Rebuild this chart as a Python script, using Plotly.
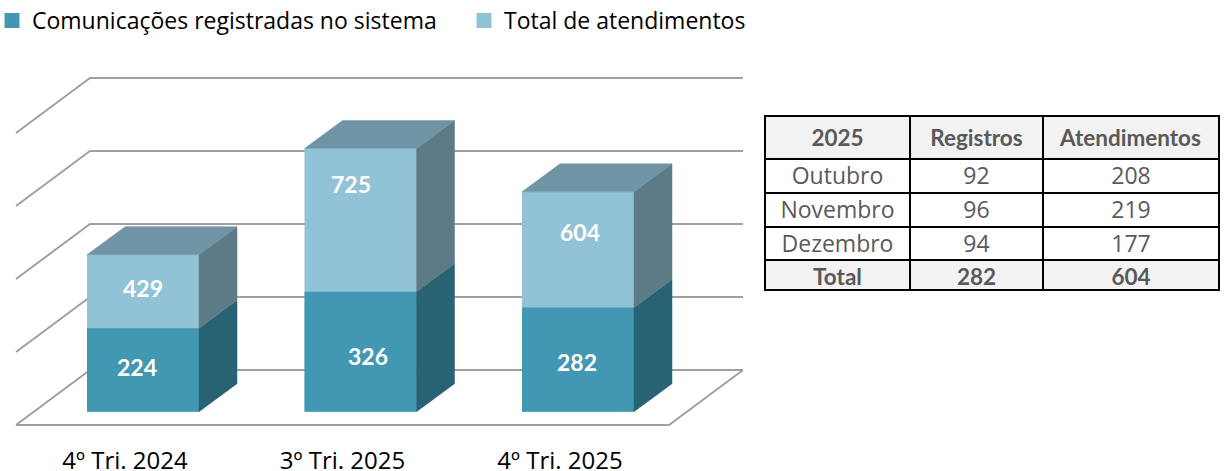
import plotly.graph_objects as go

# ---- data ----
categories = ["4º Tri. 2024", "3º Tri. 2025", "4º Tri. 2025"]
registros = [224, 326, 282]
atendimentos = [429, 725, 604]
grid_values = [0, 200, 400, 600, 800]

table_header = ["2025", "Registros", "Atendimentos"]
table_meses = ["Outubro", "Novembro", "Dezembro"]
table_registros = [92, 96, 94]
table_atendimentos = [208, 219, 177]
table_total = ["Total", 282, 604]

# ---- styling / layout constants ----
W, H = 1225, 471
TOP, BOTTOM = 40, 430
C_LOW, C_LOW_SIDE = "#4297B2", "#286373"
C_UP, C_UP_SIDE, C_UP_TOP = "#92C2D5", "#5D7B87", "#6F94A5"
GRID = "#A0A0A0"
FONT = "Open Sans"
BOLD = "Lato"

PX_X = 217.5           # pixels per category
X0_PX = 143            # pixel of first category
BAR_PX = 112
BAR_LINE = 3           # outline in the bar colour; also sizes the legend swatch
PX_GRID, Y0_GRID = 0.365, 370     # wall axis: px per unit, px of zero
PX_BAR, Y0_BAR = 0.359, 410.2     # bar axis: px per unit, px of zero

bar_w = (BAR_PX - BAR_LINE) / PX_X
ex, ey = BAR_LINE / 2 / PX_X, BAR_LINE / 2 / PX_BAR
depth_x, depth_y = 38 / PX_X, 28 / PX_BAR
wall_left, wall_right = (90 - X0_PX) / PX_X, (743 - X0_PX) / PX_X
floor_x, floor_y = 74 / PX_X, 55 / PX_GRID
positions = list(range(len(categories)))

fig = go.Figure()

# walls and floor on the main axes (behind everything)
gx, gy = [], []
for g in grid_values:
    gx += [wall_left - floor_x, wall_left, wall_right, None]
    gy += [g - floor_y, g, g, None]
gx += [wall_left - floor_x, wall_right - floor_x, wall_right, None]
gy += [grid_values[0] - floor_y, grid_values[0] - floor_y, grid_values[0], None]
fig.add_trace(go.Scatter(x=gx, y=gy, mode="lines", line=dict(color=GRID, width=2),
                         showlegend=False, hoverinfo="skip", xaxis="x", yaxis="y"))

# front faces
fig.add_trace(go.Bar(x=positions, y=atendimentos, width=bar_w,
                     marker=dict(color=C_UP, line=dict(color=C_UP, width=BAR_LINE)),
                     name="Total de atendimentos", legendrank=2, xaxis="x", yaxis="y2"))
fig.add_trace(go.Bar(x=positions, y=registros, width=bar_w,
                     marker=dict(color=C_LOW, line=dict(color=C_LOW, width=BAR_LINE)),
                     name="Comunicações registradas no sistema", legendrank=1, xaxis="x", yaxis="y2"))


def face(xs, ys, color):
    fig.add_trace(go.Scatter(x=xs + xs[:1], y=ys + ys[:1], mode="lines", fill="toself", fillcolor=color,
                             line=dict(color=color, width=0.5), showlegend=False, hoverinfo="skip",
                             xaxis="x", yaxis="y2"))


for p, r, t in zip(positions, registros, atendimentos):
    xl, xr = p - bar_w / 2 - ex, p + bar_w / 2 + ex
    r_o, t_o, b_o = r + ey, t + ey, -ey
    face([xr, xr + depth_x, xr + depth_x, xr], [b_o, b_o + depth_y, r_o + depth_y, r_o], C_LOW_SIDE)
    face([xr, xr + depth_x, xr + depth_x, xr], [r_o, r_o + depth_y, t_o + depth_y, t_o], C_UP_SIDE)
    face([xl, xr, xr + depth_x, xl + depth_x], [t_o, t_o, t_o + depth_y, t_o + depth_y], C_UP_TOP)

# data labels
low_shift = [(-6, 3), (7, -4), (-1, -2)]
up_shift = [(0, 5), (-10, 38), (2, 19)]
annotations = []
for p, r, t, ls, us in zip(positions, registros, atendimentos, low_shift, up_shift):
    for val, ypos, (sx, sy) in ((r, r / 2, ls), (t, (r + t) / 2, us)):
        annotations.append(dict(x=p, y=ypos, xref="x", yref="y2", text=f"<b>{val}</b>", showarrow=False,
                                xshift=sx, yshift=sy, font=dict(family=BOLD, size=23, color="white")))

# table
plot_h = BOTTOM - TOP
TX0, TX1 = 765, 1219
col_w = [145, 133, 176]


def ydom(px_top, px_bot):
    return [(BOTTOM - px_bot) / plot_h, (BOTTOM - px_top) / plot_h]


fig.add_trace(go.Table(
    domain=dict(x=[TX0 / W, TX1 / W], y=ydom(116, 262)),
    columnwidth=col_w,
    header=dict(values=[f"<b>{h}</b>" for h in table_header], height=42, align="center",
                fill_color="#F2F2F2", line=dict(color="black", width=2),
                font=dict(family=BOLD, size=22.5, color="#595959")),
    cells=dict(values=[table_meses, table_registros, table_atendimentos], height=34, align="center",
               fill_color="white", line=dict(color="black", width=2),
               font=dict(family=FONT, size=23, color="#595959")),
))
fig.add_trace(go.Table(
    domain=dict(x=[TX0 / W, TX1 / W], y=ydom(260, 292)),
    columnwidth=col_w,
    header=dict(values=["", "", ""], height=0, line=dict(width=0), fill_color="rgba(0,0,0,0)"),
    cells=dict(values=[[v] for v in table_total], height=30, align="center",
               fill_color="#F2F2F2", line=dict(color="black", width=2),
               font=dict(family=BOLD, size=22.5, color="#595959", weight="bold")),
))

fig.update_layout(
    width=W, height=H,
    margin=dict(l=0, r=0, t=TOP, b=H - BOTTOM, autoexpand=False),
    barmode="overlay",
    paper_bgcolor="white", plot_bgcolor="white",
    font=dict(family=FONT, size=24, color="black"),
    annotations=annotations,
    showlegend=True,
    legend=dict(orientation="h", x=3 / W, xanchor="left", y=(BOTTOM + 1) / plot_h, yanchor="top",
                indentation=-11,
                font=dict(family=FONT, size=23, color="black"), bgcolor="rgba(0,0,0,0)",
                entrywidth=438, entrywidthmode="pixels", itemclick=False, itemdoubleclick=False),
    xaxis=dict(range=[-X0_PX / PX_X, (W - X0_PX) / PX_X], showgrid=False, zeroline=False, showline=False,
               tickmode="array", tickvals=[p - 18 / PX_X for p in positions], ticktext=categories,
               ticks="outside", ticklen=9, tickcolor="rgba(0,0,0,0)",
               tickfont=dict(family=FONT, size=24, color="black")),
    yaxis=dict(range=[(Y0_GRID - BOTTOM) / PX_GRID, (Y0_GRID - TOP) / PX_GRID], visible=False),
    yaxis2=dict(range=[(Y0_BAR - BOTTOM) / PX_BAR, (Y0_BAR - TOP) / PX_BAR], overlaying="y", visible=False),
)

fig.write_html("out.html", config=dict(displayModeBar=False),
               post_script="document.body.style.margin='0';document.body.style.overflow='hidden';")
